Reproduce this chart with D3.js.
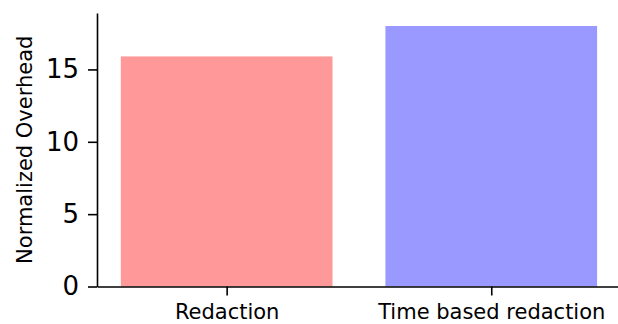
<!DOCTYPE html>
<html>
<head>
<meta charset="utf-8">
<script src="https://cdn.jsdelivr.net/npm/d3@7"></script>
<style>
  body { margin: 0; background: #fff; }
  text { font-family: "DejaVu Sans", sans-serif; fill: #000; }
</style>
</head>
<body>
<div id="chart"></div>
<script>
const categories = ["Redaction", "Time based redaction"];
const overhead = [15.9, 18];
const colors = ["#ff9999", "#9999ff"];
const yTicks = [0, 5, 10, 15];

const W = 618, H = 324;
const margin = { top: 13, right: 0, bottom: 37.5, left: 97 };

const svg = d3.select("#chart")
  .append("svg")
  .attr("width", W)
  .attr("height", H);

// bar index -> pixels, same padding as matplotlib default (-0.49 .. 1.49)
const x = d3.scaleLinear()
  .domain([-0.49, 1.49])
  .range([margin.left, margin.left + 1.98 * 264.6]);

const y = d3.scaleLinear()
  .domain([0, 18.9])
  .range([H - margin.bottom, margin.top]);

// Bars
svg.selectAll("rect.bar")
  .data(overhead)
  .join("rect")
  .attr("class", "bar")
  .attr("x", (d, i) => x(i - 0.4))
  .attr("width", (d, i) => x(i + 0.4) - x(i - 0.4))
  .attr("y", d => y(d))
  .attr("height", d => y(0) - y(d))
  .attr("fill", (d, i) => colors[i]);

// Axes
const yAxis = svg.append("g")
  .attr("transform", `translate(${margin.left},0)`)
  .call(d3.axisLeft(y).tickValues(yTicks).tickSize(9).tickPadding(9).tickSizeOuter(0));
yAxis.selectAll("text").style("font-size", "26px");

const xAxis = svg.append("g")
  .attr("transform", `translate(0,${H - margin.bottom})`)
  .call(d3.axisBottom(x).tickValues([0, 1]).tickFormat(i => categories[i])
    .tickSize(9).tickPadding(8.5).tickSizeOuter(0));
xAxis.selectAll("text").style("font-size", "21px");

svg.selectAll(".domain, .tick line").attr("stroke", "#000").attr("stroke-width", 1.6);

svg.append("text")
  .attr("transform", `translate(32,${(y(0) + y(18.9)) / 2}) rotate(-90)`)
  .attr("text-anchor", "middle")
  .style("font-size", "21px")
  .text("Normalized Overhead");
</script>
</body>
</html>
